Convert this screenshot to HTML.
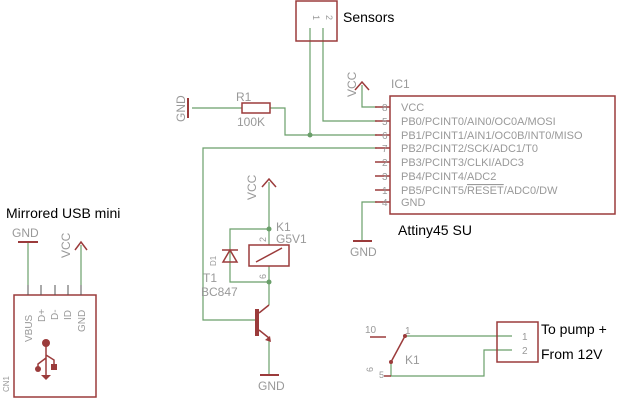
<!DOCTYPE html>
<html><head><style>body{margin:0;background:#fff}svg{display:block}</style></head><body>
<svg width="620" height="400" viewBox="0 0 620 400" xmlns="http://www.w3.org/2000/svg" font-family="Liberation Sans, sans-serif">
<g fill="none" stroke="#6a9f6a" stroke-width="1.2">
<polyline points="310,28 310,135"/>
<polyline points="323,28 323,121 377,121"/>
<polyline points="362,85 362,107 377,107"/>
<polyline points="192,108 242,108"/>
<polyline points="270,108 285,108 285,135 377,135"/>
<polyline points="377,148 203,148 203,320 257,320"/>
<polyline points="377,202 362,202 362,240"/>
<polyline points="269,182 269,245"/>
<polyline points="269,229 230,229 230,282 269,282"/>
<polyline points="269,266 269,305"/>
<polyline points="269,338 269,375"/>
<polyline points="28,242 28,285"/>
<polyline points="81,245 81,285"/>
<polyline points="405,336 512,336"/>
<polyline points="391,362 391,376 484,376 484,350 512,350"/>
</g>
<g fill="#6a9f6a"><circle cx="310" cy="135" r="2.5"/><circle cx="269" cy="229" r="2.5"/><circle cx="269" cy="282" r="2.5"/></g>
<g fill="none" stroke="#9b3b3b" stroke-width="1.5">
<rect x="296" y="1" width="41" height="40"/>
<rect x="390" y="96" width="225" height="118"/>
<path d="M375 107h15M375 121h15M375 135h15M375 148h15M375 162h15M375 176h15M375 190h15M375 202h15"/>
<path d="M355 90l7-8 7 8M262 187l7-8 7 8M75 250l6-8 6 8"/>
<path d="M188 98v20M353 241h19M260 375h19M18 242h20" stroke-width="2"/>
<rect x="242" y="103" width="28" height="10"/>
<rect x="249" y="245" width="40" height="21"/>
<path d="M256 262l26-14"/>
<path d="M222 250h16M230 250l-7 12h14z"/>
<path d="M257 309v27" stroke-width="4"/>
<path d="M259 313l10-8M259 330l10 8"/>
<rect x="14" y="295" width="82" height="102"/>
<path d="M28 285v10M41 285v10M55 285v10M68 285v10M81 285v10" stroke="#555" stroke-width="1"/>
<path d="M405 336l-14 26"/>
<path d="M384 376h7M370 337h16" />
<rect x="497" y="322" width="41" height="40"/>
<path d="M46 343v32M46 358l-8 6v5M46 355l8 5v6"/>
</g>
<g fill="#9b3b3b"><path d="M265 340l5-4 1 6z"/><circle cx="46" cy="343" r="4"/><circle cx="38" cy="369" r="3"/><rect x="51" y="364" width="6" height="6"/><path d="M41 375h10l-5 5z"/><circle cx="391" cy="362" r="2"/><circle cx="405" cy="336" r="2"/></g>
<g fill="#999" font-size="11">
<text x="401" y="111">VCC</text>
<text x="401" y="125">PB0/PCINT0/AIN0/OC0A/MOSI</text>
<text x="401" y="139">PB1/PCINT1/AIN1/OC0B/INT0/MISO</text>
<text x="401" y="152">PB2/PCINT2/SCK/ADC1/T0</text>
<text x="401" y="166">PB3/PCINT3/CLKI/ADC3</text>
<text x="401" y="180">PB4/PCINT4/ADC2</text>
<text x="401" y="194">PB5/PCINT5/<tspan text-decoration="overline">RESET</tspan>/ADC0/DW</text>
<text x="401" y="206">GND</text>
<g font-size="10"><text x="382" y="111">8</text><text x="382" y="125">5</text><text x="382" y="139">6</text><text x="382" y="152">7</text><text x="382" y="166">2</text><text x="382" y="180">3</text><text x="382" y="194">1</text><text x="382" y="206">4</text></g>
<text x="391" y="88" font-size="12">IC1</text>
<text x="236" y="101" font-size="12">R1</text>
<text x="237" y="126" font-size="12">100K</text>
<text transform="translate(185,122) rotate(-90)" font-size="12">GND</text>
<text transform="translate(356,97) rotate(-90)" font-size="12">VCC</text>
<text transform="translate(256,200) rotate(-90)" font-size="12">VCC</text>
<text transform="translate(70,258) rotate(-90)" font-size="12">VCC</text>
<text x="350" y="256" font-size="12">GND</text>
<text x="258" y="390" font-size="12">GND</text>
<text x="12" y="237" font-size="12">GND</text>
<text x="276" y="231" font-size="12">K1</text>
<text x="276" y="243" font-size="12">G5V1</text>
<text x="203" y="282" font-size="12">T1</text>
<text x="201" y="296" font-size="12">BC847</text>
<text transform="translate(216,266) rotate(-90)" font-size="8">D1</text>
<text transform="translate(266,242) rotate(-90)" font-size="9">2</text>
<text transform="translate(266,279) rotate(-90)" font-size="9">6</text>
<text transform="translate(313,15) rotate(90)" font-size="9">1</text>
<text transform="translate(326,15) rotate(90)" font-size="9">2</text>
<g font-size="10"><text transform="translate(32,342) rotate(-90)">VBUS</text><text transform="translate(45,322) rotate(-90)">D+</text><text transform="translate(58,320) rotate(-90)">D-</text><text transform="translate(71,320) rotate(-90)">ID</text><text transform="translate(85,332) rotate(-90)">GND</text></g>
<text transform="translate(9,392) rotate(-90)" font-size="8">CN1</text>
<text x="365" y="333" font-size="10">10</text>
<text x="405" y="334" font-size="10">1</text>
<text x="405" y="364" font-size="12">K1</text>
<text x="379" y="378" font-size="9">5</text>
<text transform="translate(373,372) rotate(-90)" font-size="9">6</text>
<text x="522" y="340" font-size="10">1</text>
<text x="522" y="354" font-size="10">2</text>
</g>
<g fill="#000" font-size="14">
<text x="343" y="22">Sensors</text>
<text x="398" y="235">Attiny45 SU</text>
<text x="6" y="218">Mirrored USB mini</text>
<text x="541" y="334">To pump +</text>
<text x="541" y="359">From 12V</text>
</g>
</svg>
</body></html>
